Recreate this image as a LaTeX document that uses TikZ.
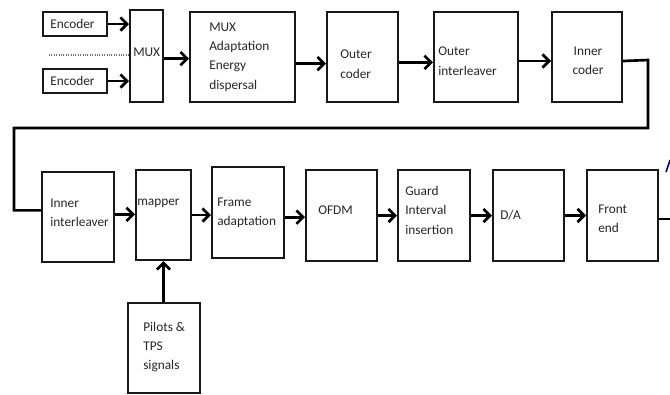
\documentclass[tikz,border=0pt]{standalone}
\usepackage{fontspec}
\setmainfont{Carlito}
\usetikzlibrary{arrows.meta,fit}
\begin{document}
\begin{tikzpicture}[x=0.75pt,y=-0.75pt,
  box/.style={draw=black!90,line width=1.5pt,inner sep=0pt},
  lbl/.style={inner sep=0pt,anchor=west,align=left,text=black!85,font=\fontsize{10}{14.6}\selectfont},
  arr/.style={line width=2.1pt,-{Straight Barb[length=5pt,width=10pt,line width=2pt]}},
  wire/.style={line width=2pt}]
\useasboundingbox (0,0) rectangle (670,394);
% top row boxes
\node[box,fit={(43,12)(107,36)}] (e1) {};
\node[box,fit={(43,69)(107,93)}] (e2) {};
\node[box,fit={(130,10)(163,102)}] (mux) {};
\node[box,fit={(190,12)(295,102)}] (adapt) {};
\node[box,fit={(327,12)(398,102)}] (oc) {};
\node[box,fit={(434,12)(518,102)}] (oi) {};
\node[box,fit={(552,12)(622,102)}] (ic) {};
% bottom row boxes
\node[box,fit={(42,172)(114,262)}] (ii) {};
\node[box,fit={(136,170)(191,260)}] (map) {};
\node[box,fit={(212,167)(284,258)}] (fa) {};
\node[box,fit={(306,170)(377,261)}] (ofdm) {};
\node[box,fit={(398,170)(470,261)}] (gi) {};
\node[box,fit={(493,170)(564,261)}] (da) {};
\node[box,fit={(587,170)(658,261)}] (fe) {};
\node[box,fit={(128,303)(200,393)}] (pil) {};
% labels
\node[lbl] (te1) at (50,24) {Encoder};
\node[lbl] (te2) at (50,81) {Encoder};
\node[lbl] (tmux) at (133,52) {MUX};
\node[lbl] (tad) at (209,57) {MUX\\Adaptation\\Energy\\dispersal};
\node[lbl] (toc) at (340,64) {Outer\\coder};
\node[lbl] (toi) at (438,61) {Outer\\interleaver};
\node[lbl,anchor=center,align=center] (tic) at (588,61) {Inner\\coder};
\node[lbl] (tii) at (50,213) {Inner\\interleaver};
\node[lbl] (tmap) at (137,203) {mapper};
\node[lbl] (tfa) at (217,213) {Frame\\adaptation};
\node[lbl] (tofdm) at (318,210) {OFDM};
\node[lbl] (tgi) at (405,210) {Guard\\Interval\\insertion};
\node[lbl] (tda) at (500,215) {D/A};
\node[lbl] (tfe) at (598,219) {Front\\end};
\node[lbl] (tpil) at (143,347) {Pilots \&\\TPS\\signals};
% dotted separator
\coordinate (dl) at (49,55);
\draw[black!55,line width=0.8pt,densely dotted] (dl) -- (dl -| mux.west);
% top row arrows
\draw[arr] (e1.east) -- (e1.east -| mux.west);
\draw[arr] (e2.east) -- (e2.east -| mux.west);
\draw[arr] ([yshift=-2]mux.east) -- ([yshift=-2]mux.east -| adapt.west);
\draw[arr] ([yshift=-5]adapt.east) -- ([yshift=-5]adapt.east -| oc.west);
\draw[arr] ([yshift=-4]oc.east) -- ([yshift=-4]oc.east -| oi.west);
\draw[arr] ([yshift=-3]oi.east) -- ([yshift=-3]oi.east -| ic.west);
% feedback wire
\coordinate (r1) at (648,60);
\coordinate (l1) at (14,128);
\draw[wire] ([yshift=-3]ic.east) -- (r1) |- (l1) |- ([yshift=5]ii.west);
% bottom row arrows
\draw[arr] ([yshift=2]ii.east) -- ([yshift=2]ii.east -| map.west);
\draw[arr] (map.east) -- (map.east -| fa.west);
\draw[arr] ([yshift=-3.5]fa.east) -- ([yshift=-3.5]fa.east -| ofdm.west);
\draw[arr] (ofdm.east) -- (ofdm.east -| gi.west);
\draw[arr] (gi.east) -- (gi.east -| da.west);
\draw[arr] (da.east) -- (da.east -| fe.west);
\coordinate (out) at (670,219);
\draw[wire] (fe.east |- out) -- (out);
\draw[arr] (pil.north -| map.south) -- (map.south);
% cut-off blue mark at right edge
\coordinate (bm1) at (666,172);
\coordinate (bm2) at (670,160);
\draw[blue!60!black,line width=1.2pt] (bm1) -- (bm2);
\end{tikzpicture}
\end{document}
